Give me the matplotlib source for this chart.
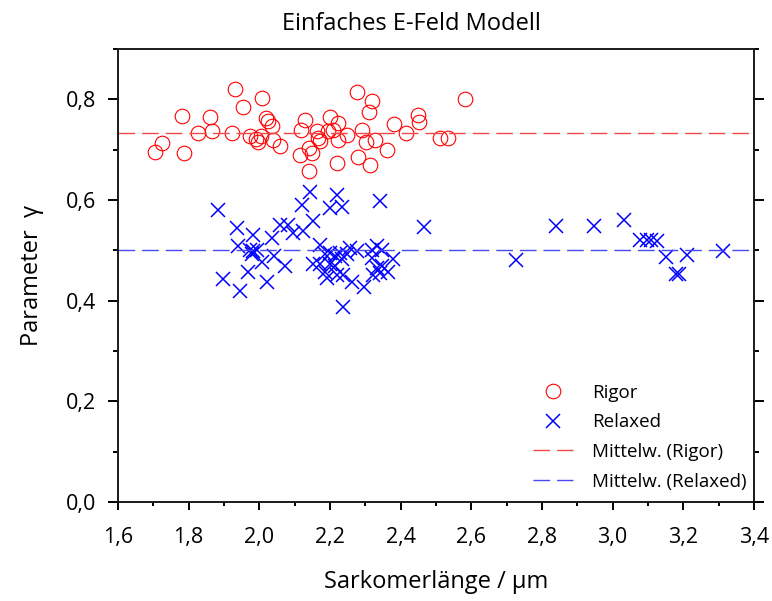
import matplotlib.pyplot as plt
from matplotlib.ticker import MultipleLocator, FuncFormatter

plt.rcParams['font.family'] = ['Open Sans', 'DejaVu Sans']

# Rigor
rigor_x = [1.705, 1.724, 1.782, 1.787, 1.827, 1.860, 1.865, 1.924, 1.932, 1.955,
           2.007, 1.974, 1.990, 1.995, 2.005, 2.020, 2.025, 2.035, 2.040, 2.058,
           2.117, 2.129, 2.115, 2.141, 2.148, 2.141, 2.162, 2.167, 2.172, 2.200,
           2.195, 2.209, 2.224, 2.224, 2.221, 2.276, 2.320, 2.311, 2.247, 2.290,
           2.302, 2.327, 2.362, 2.280, 2.313, 2.381, 2.414, 2.450, 2.453, 2.510,
           2.535, 2.583]
rigor_y = [0.696, 0.714, 0.766, 0.694, 0.734, 0.764, 0.738, 0.734, 0.821, 0.785,
           0.802, 0.727, 0.722, 0.715, 0.727, 0.763, 0.757, 0.747, 0.720, 0.707,
           0.740, 0.760, 0.689, 0.704, 0.694, 0.657, 0.737, 0.724, 0.717, 0.765,
           0.737, 0.740, 0.754, 0.720, 0.673, 0.815, 0.797, 0.774, 0.730, 0.739,
           0.715, 0.719, 0.700, 0.686, 0.669, 0.752, 0.734, 0.768, 0.756, 0.724,
           0.724, 0.800]

# Relaxed
relaxed_x = [1.882, 1.938, 1.983, 1.939, 1.974, 1.983, 1.993, 1.978, 2.035, 2.058,
             2.082, 2.096, 2.120, 2.143, 2.125, 2.151, 2.042, 2.007, 1.969, 2.073,
             1.898, 2.021, 1.945, 2.172, 2.153, 2.172, 2.186, 2.191, 2.219, 2.200,
             2.233, 2.342, 2.467, 2.186, 2.200, 2.214, 2.228, 2.247, 2.200, 2.214,
             2.219, 2.238, 2.233, 2.262, 2.276, 2.257, 2.297, 2.238, 2.318, 2.332,
             2.346, 2.318, 2.332, 2.346, 2.342, 2.365, 2.379, 2.323, 2.726, 2.840,
             2.948, 3.032, 3.078, 3.096, 3.109, 3.125, 3.150, 3.179, 3.189, 3.210,
             3.313]
relaxed_y = [0.581, 0.545, 0.531, 0.508, 0.501, 0.498, 0.501, 0.492, 0.525, 0.551,
             0.551, 0.535, 0.591, 0.616, 0.538, 0.558, 0.488, 0.477, 0.458, 0.468,
             0.444, 0.438, 0.419, 0.511, 0.472, 0.472, 0.458, 0.445, 0.610, 0.584,
             0.586, 0.598, 0.547, 0.492, 0.495, 0.488, 0.495, 0.492, 0.472, 0.468,
             0.452, 0.452, 0.482, 0.438, 0.498, 0.505, 0.427, 0.387, 0.501, 0.508,
             0.501, 0.485, 0.465, 0.468, 0.455, 0.458, 0.482, 0.452, 0.480, 0.549,
             0.548, 0.560, 0.521, 0.521, 0.521, 0.518, 0.486, 0.454, 0.454, 0.490,
             0.498]

rigor_mean = 0.733
relaxed_mean = 0.501

fig = plt.figure(figsize=(7.72, 6.01), dpi=100)
ax = fig.add_axes([0.1528, 0.1647, 0.8239, 0.7537])

ax.plot(rigor_x, rigor_y, 'o', mfc='none', mec='red', ms=10.5, mew=0.8, label='Rigor')
ax.plot(relaxed_x, relaxed_y, 'x', color='blue', ms=10, mew=1.1, label='Relaxed')
ax.axhline(rigor_mean, color='#f04848', lw=1.0, dashes=(12, 5), label='Mittelw. (Rigor)')
ax.axhline(relaxed_mean, color='#4848f0', lw=1.0, dashes=(12, 5), label='Mittelw. (Relaxed)')

ax.set_xlim(1.6, 3.4)
ax.set_ylim(0, 0.9)

ax.xaxis.set_major_locator(MultipleLocator(0.2))
ax.xaxis.set_minor_locator(MultipleLocator(0.1))
ax.yaxis.set_major_locator(MultipleLocator(0.2))
ax.yaxis.set_minor_locator(MultipleLocator(0.1))
comma = FuncFormatter(lambda v, p: f'{v:.1f}'.replace('.', ','))
ax.xaxis.set_major_formatter(comma)
ax.yaxis.set_major_formatter(comma)

for s in ax.spines.values():
    s.set_linewidth(1.4)
    s.set_color('#1a1a1a')
ax.tick_params(axis='x', which='major', direction='out', length=6, width=1.4, pad=12, labelsize=15.5)
ax.tick_params(axis='x', which='minor', direction='out', length=3, width=1.4)
ax.tick_params(axis='y', which='major', direction='out', length=7.5, width=1.4, pad=8,
               labelsize=15.5, right=True)
ax.tick_params(axis='y', which='minor', direction='out', length=3.5, width=1.4, right=True)

ax.set_xlabel('Sarkomerlänge / µm', fontsize=17, labelpad=16)
ax.set_ylabel('Parameter  γ', fontsize=17, labelpad=16)
ax.set_title('Einfaches E-Feld Modell', fontsize=17, pad=14, x=0.461)

ax.legend(loc='lower right', bbox_to_anchor=(1.015, -0.012), frameon=False, fontsize=13.5,
          handlelength=2.15, labelspacing=0.62, handletextpad=1.0)

fig.savefig('out.png', dpi=100)
